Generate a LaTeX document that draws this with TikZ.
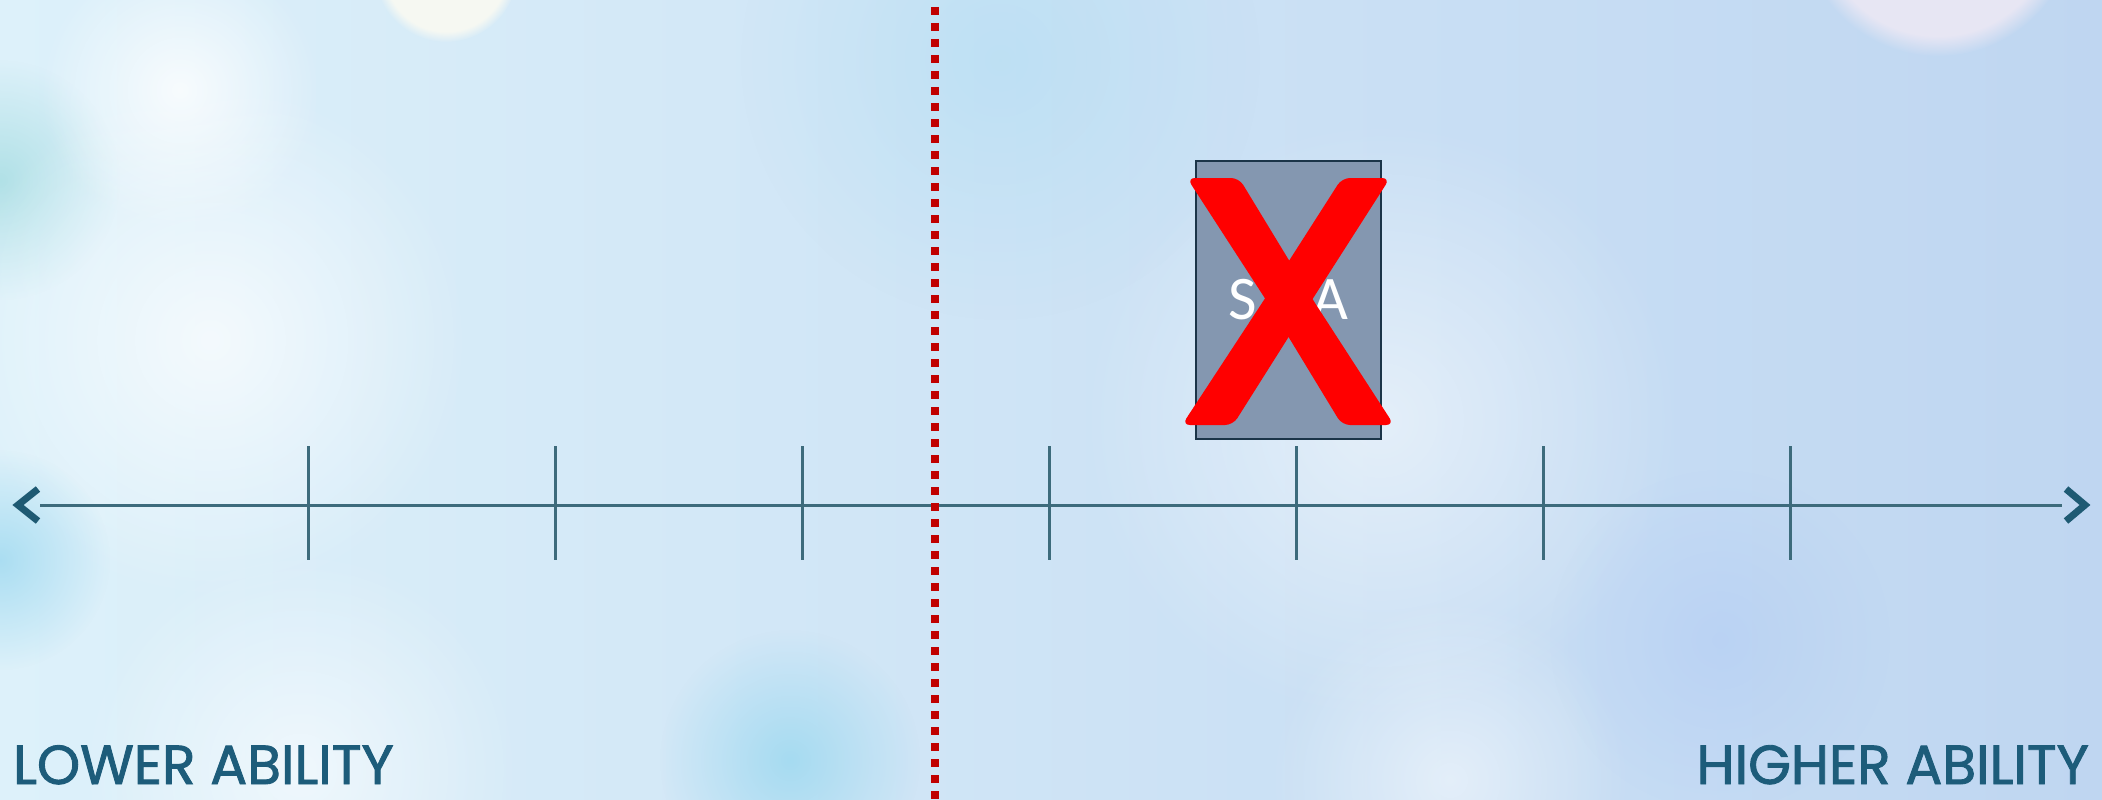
\documentclass[tikz,border=0pt]{standalone}
\usepackage{fontspec}
\usetikzlibrary{fadings}
\newfontfamily\popfont{Poppins}[FakeBold=1.6]
\newfontfamily\calfont{Carlito}
\definecolor{axiscol}{HTML}{3D6B7C}
\definecolor{chev}{HTML}{1E5A73}
\definecolor{labcol}{HTML}{1D5C7A}
\definecolor{boxfill}{HTML}{8497B0}
\definecolor{boxline}{HTML}{1B3448}
\definecolor{dotred}{HTML}{C00000}
\definecolor{xred}{HTML}{FF0000}
\definecolor{bgL}{HTML}{DDF1FA}
\definecolor{bgM}{HTML}{CFEDF9}
\definecolor{bgR}{HTML}{BFD6F1}
\definecolor{cyanblob}{HTML}{9ED9F0}
\definecolor{tealblob}{HTML}{A6DDE2}
\definecolor{blueblob}{HTML}{B6CFF3}
\definecolor{lavblob}{HTML}{ECE8F4}
\definecolor{creamblob}{HTML}{FAFAF2}
\tikzfading[name=softblob, inner color=transparent!0, outer color=transparent!100]
\tikzset{
  axisline/.style={draw=axiscol, line width=3pt},
  tickline/.style={draw=axiscol, line width=3pt},
  chevron/.style={draw=chev, line width=7pt, line join=miter},
  ablabel/.style={text=labcol, inner sep=0pt, font=\popfont\fontsize{55}{55}\selectfont},
  dotline/.style={draw=dotred, line width=8pt, dash pattern=on 8pt off 8pt},
  crossedbox/.style={draw=boxline, line width=2.5pt, fill=boxfill, minimum width=185pt,
    minimum height=278pt, inner sep=0pt, text=white, font=\calfont\fontsize{62}{62}\selectfont},
  bigx/.style={fill=xred, rounded corners=8pt},
  bokeh/.style={path fading=softblob},
  sharpbokeh/.style={path fading=circle with fuzzy edge 15 percent}
}
\begin{document}
\begin{tikzpicture}[x=1pt,y=-1pt]
\useasboundingbox (0,0) rectangle (2102,800);
% background
\shade[left color=bgL, middle color=bgM, right color=bgR] (0,0) rectangle (2102,800);
\fill[tealblob, bokeh, opacity=0.8] (0,180) circle (120pt);
\fill[white, bokeh, opacity=0.8] (180,90) circle (140pt);
\fill[white, bokeh, opacity=0.7] (210,340) circle (260pt);
\fill[white, bokeh, opacity=0.5] (1380,420) circle (300pt);
\fill[white, bokeh, opacity=0.6] (300,770) circle (220pt);
\fill[white, bokeh, opacity=0.5] (1450,780) circle (180pt);
\fill[cyanblob, bokeh, opacity=0.85] (790,760) circle (130pt);
\fill[cyanblob, bokeh, opacity=0.8] (0,560) circle (110pt);
\fill[blueblob, bokeh, opacity=0.7] (1720,640) circle (170pt);
\fill[cyanblob, bokeh, opacity=0.35] (1000,60) circle (260pt);
\fill[creamblob, sharpbokeh, opacity=0.9] (446,-30) circle (72pt);
\fill[lavblob, sharpbokeh, opacity=0.9] (1938,-82) circle (138pt);
% axis
\coordinate (axL) at (40,505);
\coordinate (axR) at (2062,505);
\draw[axisline] (axL) -- (axR);
\coordinate (chL1) at (38,489); \coordinate (chL2) at (18,505); \coordinate (chL3) at (38,521);
\coordinate (chR1) at (2066,489); \coordinate (chR2) at (2085,505); \coordinate (chR3) at (2066,521);
\draw[chevron] (chL1) -- (chL2) -- (chL3);
\draw[chevron] (chR1) -- (chR2) -- (chR3);
\foreach \i in {0,...,6}{
  \pgfmathsetmacro{\xx}{308+247*\i}
  \coordinate (ta\i) at (\xx,446);
  \coordinate (tb\i) at (\xx,560);
  \draw[tickline] (ta\i) -- (tb\i);
}
% red dotted divider
\coordinate (dtop) at (935,7);
\coordinate (dbot) at (935,800);
\draw[dotline] (dtop) -- (dbot);
% crossed box
\node[crossedbox] (sbox) at (1288.5,300) {S\phantom{W}A};
\fill[bigx] (1187,178) -- (1239,178) -- (1314,301.5) -- (1394,425) -- (1342,425) -- (1267,301.5) -- cycle;
\fill[bigx] (1342,178) -- (1390,178) -- (1311,301.5) -- (1233,425) -- (1182,425) -- (1263,301.5) -- cycle;
% labels
\node[ablabel, anchor=base west] (lower) at (13,784) {LOWER ABILITY};
\node[ablabel, anchor=base east] (higher) at (2089,784) {HIGHER ABILITY};
\end{tikzpicture}
\end{document}
